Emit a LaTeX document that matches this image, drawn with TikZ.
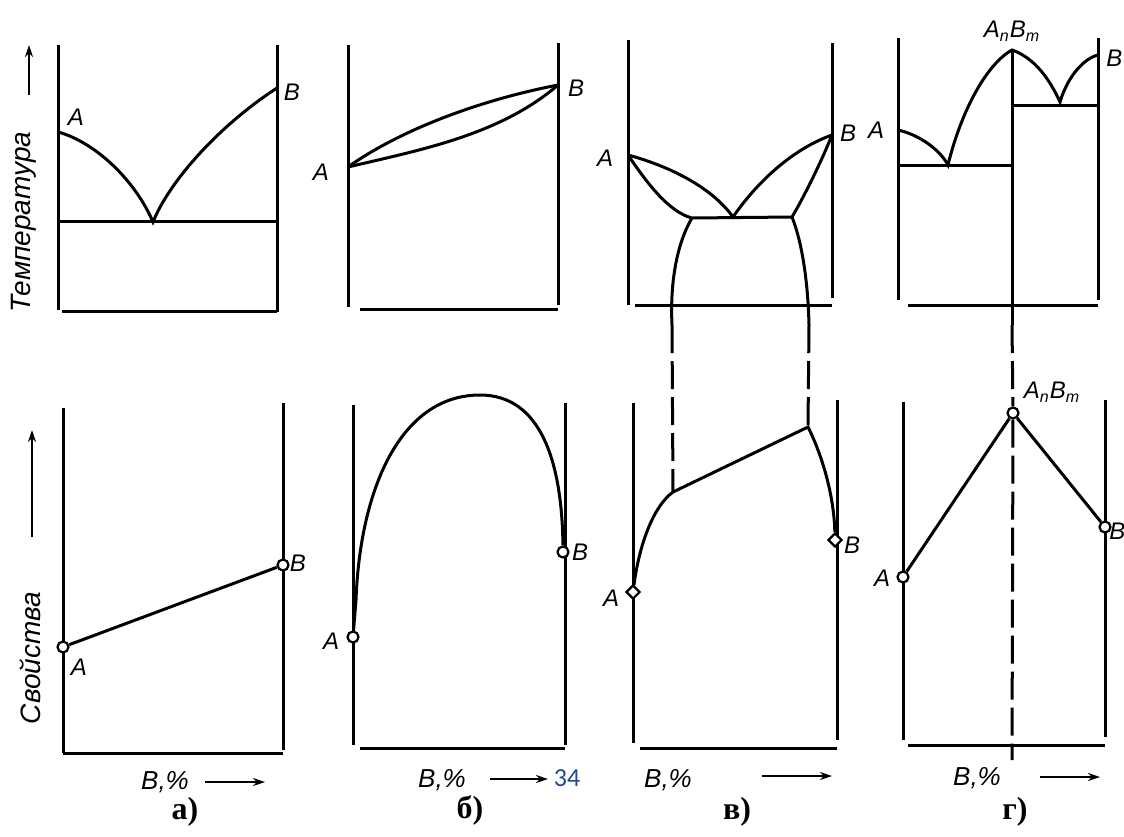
\documentclass[tikz,border=0pt]{standalone}
\usepackage{fontspec}
\usepackage{tikz}
\usetikzlibrary{
	arrows.meta, shapes.geometric, positioning, calc
}
\newfontfamily\lblfont{Liberation Sans}
\newfontfamily\capfont{Liberation Serif}
\newfontfamily\pgfont{Carlito}
\definecolor{pageblue}{RGB}{32,72,145}

\begin{document}
\begin{tikzpicture}[x=0.5pt,y=-0.5pt,
		axisline/.style={line width=1.5pt},
		curveline/.style={line width=1.5pt},
		dashline/.style={line width=1.5pt,dash pattern=on 14pt off 4pt},
		ptcirc/.style={circle,draw,fill=white,line width=1.1pt,inner sep=0pt,minimum size=5.5pt},
		ptdiam/.style={diamond,draw,fill=white,line width=1.1pt,inner sep=0pt,minimum size=7pt},
		lbl/.style={font=\lblfont\itshape\fontsize{12}{12}\selectfont,inner sep=1pt},
		axlbl/.style={font=\lblfont\itshape\fontsize{14}{14}\selectfont,rotate=90,inner sep=0pt},
		sublbl/.style={font=\capfont\bfseries\fontsize{16}{16}\selectfont,inner sep=0pt},
		pctarrow/.style={-{Stealth[length=6pt,width=4pt]},line width=1.3pt}
	]
	\useasboundingbox (0,0) rectangle (1124,836);

	% vertical axis labels
	\node[axlbl] (tlab) at (24,222) {Температура};
	\draw[pctarrow] (29,95) -- (29,45);
	\node[axlbl] (plab) at (30,658) {Свойства};
	\draw[pctarrow] (32,537) -- (32,430);

	% --- a) top
	\draw[axisline] (58,45) -- (58,310) (277,45) -- (277,312) (62,311) -- (277,311);
	\coordinate (aTA) at (58,132);
	\coordinate (aTE) at (153,222);
	\coordinate (aTB) at (277,88);
	\draw[curveline] (58,221) -- (277,221);
	\draw[curveline] (aTA) .. controls (95,142) and (135,180) .. (aTE)
		.. controls (170,180) and (220,125) .. (aTB);
	\node[lbl] (aTAl) at (76,117) {A};
	\node[lbl] (aTBl) at (292,92) {B};

	% --- a) bottom
	\draw[axisline] (63,408) -- (63,753) (283,403) -- (283,750) (63,753) -- (283,753);
	\node[ptcirc] (aBA) at (63,647) {};
	\node[ptcirc] (aBB) at (283,565) {};
	\draw[curveline] (aBA) -- (aBB);
	\node[lbl] (aBAl) at (79,667) {A};
	\node[lbl] (aBBl) at (298,563) {B};
	\node[lbl,font=\lblfont\itshape\fontsize{13}{13}\selectfont] (aPct) at (165,782) {B,\%};
	\draw[pctarrow] (205,782) -- (265,782);
	\node[sublbl] (aCap) at (185,812) {а)};

	% --- б) top
	\draw[axisline] (348,45) -- (348,307) (558,43) -- (558,305) (360,309) -- (558,309);
	\coordinate (bTA) at (348,167);
	\coordinate (bTB) at (558,85);
	\draw[curveline] (bTA) .. controls (400,130) and (480,100) .. (bTB);
	\draw[curveline] (bTA) .. controls (420,150) and (500,135) .. (bTB);
	\node[lbl] (bTAl) at (321,172) {A};
	\node[lbl] (bTBl) at (576,88) {B};

	% --- б) bottom
	\draw[axisline] (353,405) -- (353,745) (565,403) -- (565,745) (360,748) -- (565,748);
	\node[ptcirc] (bBA) at (353,637) {};
	\node[ptcirc] (bBB) at (563,552) {};
	\coordinate (bTop) at (480,395);
	\draw[curveline] (bBA) -- (356,600) .. controls (360,490) and (400,395) .. (bTop)
		.. controls (540,395) and (562,460) .. (bBB);
	\node[lbl] (bBAl) at (331,641) {A};
	\node[lbl] (bBBl) at (580,552) {B};
	\node[lbl,font=\lblfont\itshape\fontsize{13}{13}\selectfont] (bPct) at (442,780) {B,\%};
	\draw[pctarrow] (490,779) -- (548,779);
	\node[font=\pgfont\fontsize{13}{13}\selectfont,text=pageblue,inner sep=0pt] (pgno) at (567,778) {34};
	\node[sublbl] (bCap) at (470,810) {б)};

	% --- в) top
	\draw[axisline] (628,40) -- (628,305) (832,43) -- (832,298) (635,305) -- (832,305);
	\coordinate (cTA) at (628,155);
	\coordinate (cTB) at (832,135);
	\coordinate (cTE) at (733,217);
	\coordinate (cSa) at (692,218);
	\coordinate (cSb) at (792,217);
	\draw[curveline] (cTA) .. controls (665,165) and (710,185) .. (cTE)
		.. controls (755,185) and (790,150) .. (cTB);
	\draw[curveline] (cTA) .. controls (645,180) and (668,212) .. (cSa) -- (cSb)
		.. controls (805,195) and (822,160) .. (cTB);
	\coordinate (cLo) at (672,325);
	\coordinate (cRo) at (809,325);
	\draw[curveline] (cSa) .. controls (676,245) and (670,285) .. (cLo);
	\draw[curveline] (cSb) .. controls (803,245) and (808,285) .. (cRo);
	\node[lbl] (cTAl) at (605,158) {A};
	\node[lbl] (cTBl) at (848,133) {B};

	% --- в) bottom
	\draw[axisline] (633,403) -- (633,743) (837,400) -- (837,740) (640,748) -- (837,748);
	\node[ptdiam] (cBA) at (633,592) {};
	\node[ptdiam] (cBB) at (835,540) {};
	\coordinate (cP1) at (673,492);
	\coordinate (cP2) at (808,427);
	\draw[curveline] (cBA) .. controls (640,540) and (655,505) .. (cP1) -- (cP2)
		.. controls (822,455) and (834,495) .. (cBB);
	\draw[dashline] (cLo) -- (cP1);
	\draw[dashline] (cRo) -- (cP2);
	\node[lbl] (cBAl) at (611,598) {A};
	\node[lbl] (cBBl) at (852,545) {B};
	\node[lbl,font=\lblfont\itshape\fontsize{13}{13}\selectfont] (cPct) at (668,780) {B,\%};
	\draw[pctarrow] (762,776) -- (832,776);
	\node[sublbl] (cCap) at (737,812) {в)};

	% --- г) top
	\draw[axisline] (898,38) -- (898,300) (1098,38) -- (1098,300) (908,305) -- (1098,305);
	\coordinate (dTA) at (898,130);
	\coordinate (dE1) at (948,165);
	\coordinate (dTC) at (1012,50);
	\coordinate (dE2) at (1060,102);
	\coordinate (dTB) at (1098,55);
	\coordinate (dLo) at (1012,325);
	\draw[axisline] (dTC) -- (dLo);
	\draw[curveline] (898,165) -- (1012,165) (1012,105) -- (1098,105);
	\draw[curveline] (dTA) .. controls (920,135) and (940,150) .. (dE1)
		.. controls (960,115) and (985,65) .. (dTC)
		.. controls (1035,58) and (1050,80) .. (dE2)
		.. controls (1068,75) and (1085,58) .. (dTB);
	\node[lbl] (dTAl) at (876,130) {A};
	\node[lbl] (dTCl) at (1012,31) {A\textsubscript{n}B\textsubscript{m}};
	\node[lbl,anchor=west,inner sep=0pt] (dTBl) at (1106,58) {B};

	% --- г) bottom
	\draw[axisline] (903,402) -- (903,740) (1105,400) -- (1105,737) (908,745) -- (1105,745);
	\node[ptcirc] (dBA) at (903,577) {};
	\node[ptcirc] (dBC) at (1013,413) {};
	\node[ptcirc] (dBB) at (1105,527) {};
	\draw[curveline] (dBA) -- (dBC) -- (dBB);
	\coordinate (dBot) at (1012,760);
	\draw[dashline] (dLo) -- (dBC) (dBC) -- (dBot);
	\node[lbl] (dBAl) at (882,578) {A};
	\node[lbl] (dBCl) at (1052,392) {A\textsubscript{n}B\textsubscript{m}};
	\node[lbl,anchor=west,inner sep=0pt] (dBBl) at (1109,531) {B};
	\node[lbl,font=\lblfont\itshape\fontsize{13}{13}\selectfont] (dPct) at (977,778) {B,\%};
	\draw[pctarrow] (1040,777) -- (1100,777);
	\node[sublbl] (dCap) at (1015,812) {г)};
\end{tikzpicture}
\end{document}
